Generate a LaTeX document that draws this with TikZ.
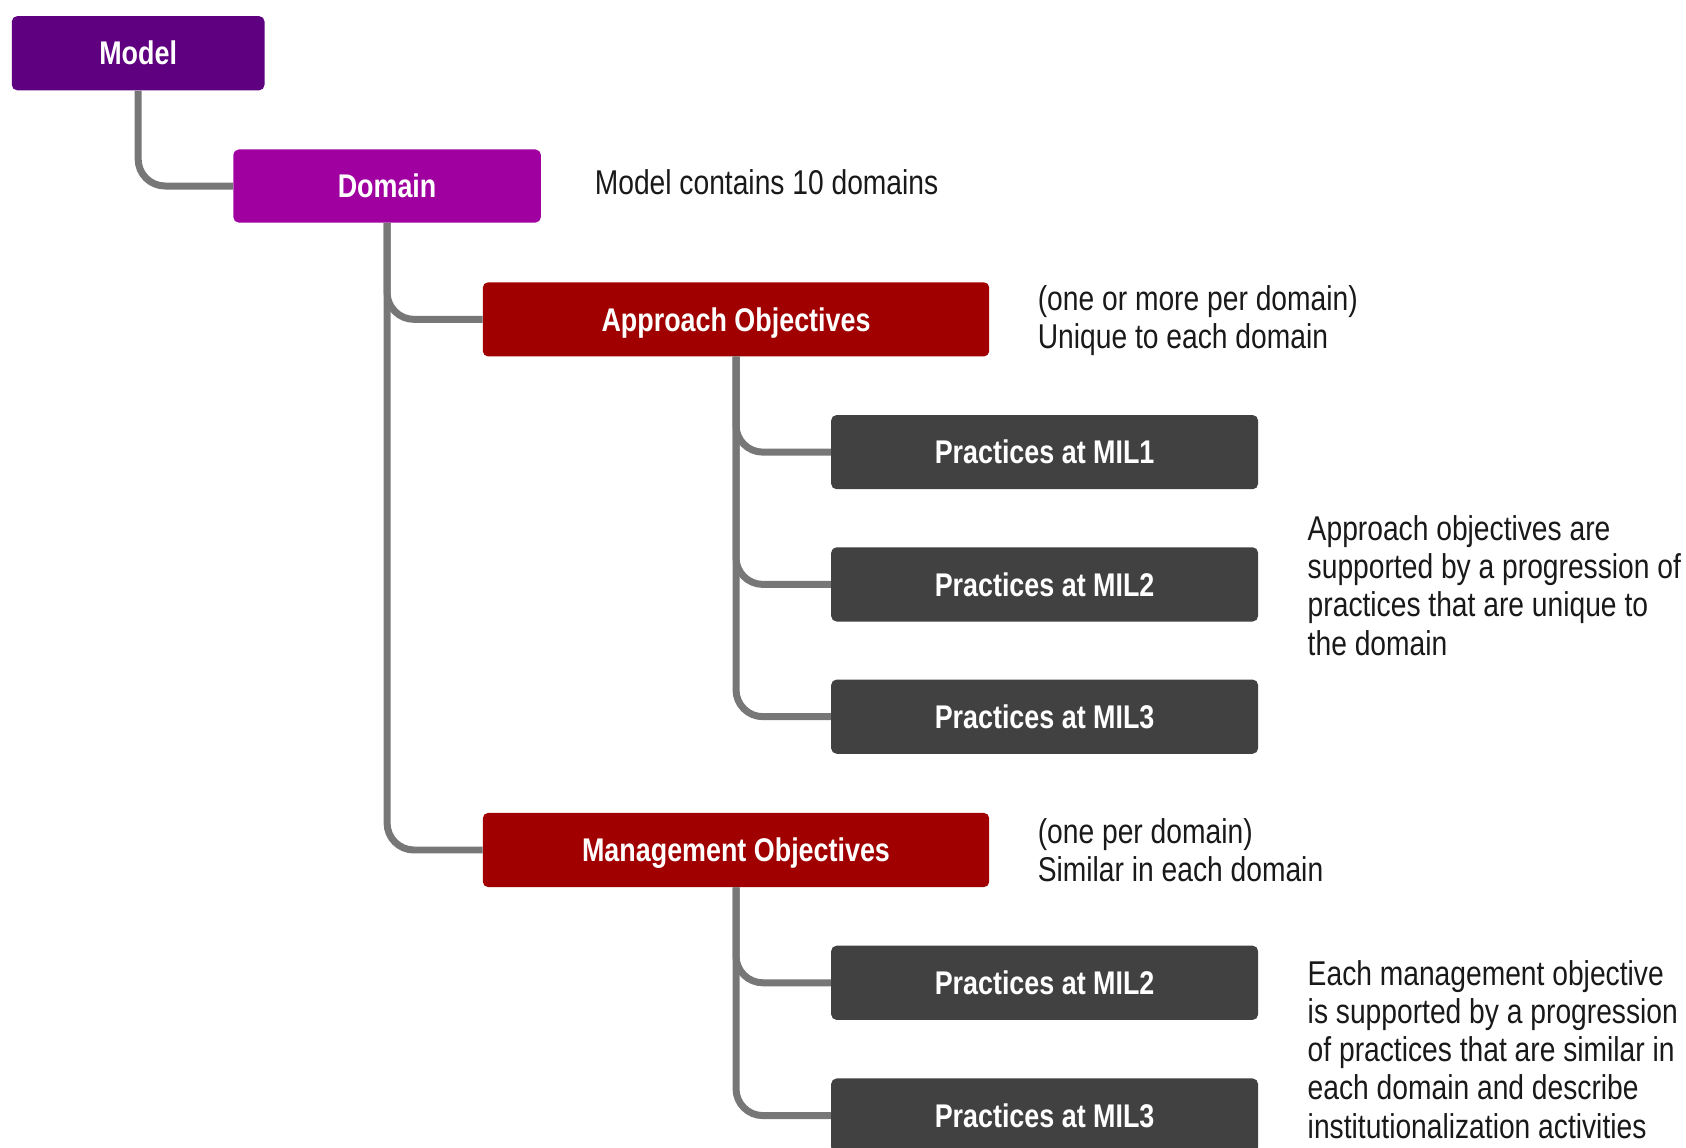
\documentclass[tikz,border=0pt]{standalone}
\usepackage{fontspec}
\setmainfont{Liberation Sans}[FakeStretch=0.82]
\definecolor{cModel}{RGB}{94,0,128}
\definecolor{cDomain}{RGB}{160,0,160}
\definecolor{cObj}{RGB}{160,0,0}
\definecolor{cPrac}{RGB}{65,65,65}
\definecolor{cLink}{RGB}{119,119,119}
\definecolor{cNote}{RGB}{25,25,25}
\begin{document}
\begin{tikzpicture}[x=1pt,y=-1pt,
  box/.style={rounded corners=5pt, text=white, inner sep=0pt,
    text height=21.8pt, text depth=0pt,
    font=\fontsize{30.5}{36}\selectfont\bfseries},
  modelbox/.style={box, fill=cModel, minimum width=235pt, minimum height=69pt},
  domainbox/.style={box, fill=cDomain, minimum width=286pt, minimum height=68pt},
  objbox/.style={box, fill=cObj, minimum width=471pt, minimum height=69pt},
  pracbox/.style={box, fill=cPrac, minimum width=397pt, minimum height=69pt},
  link/.style={draw=cLink, line width=6.5pt, rounded corners=25pt},
  note/.style={anchor=west, inner sep=0pt, align=left, text=cNote,
    font=\fontsize{32}{35.5}\selectfont}]
\useasboundingbox (0,0) rectangle (1568,1067);
\clip (0,0) rectangle (1568,1067);

% hierarchy boxes
\node[modelbox]  (model)  at (128.5,49.5) {Model};
\node[domainbox] (domain) at (360,173)    {Domain};
\node[objbox]    (ao)     at (684.5,297)  {Approach Objectives};
\node[pracbox]   (ap1)    at (971.5,420.5) {Practices at MIL1};
\node[pracbox]   (ap2)    at (971.5,543.5) {Practices at MIL2};
\node[pracbox]   (ap3)    at (971.5,666.5) {Practices at MIL3};
\node[objbox]    (mo)     at (684.5,790.5) {Management Objectives};
\node[pracbox]   (mp2)    at (971.5,914)   {Practices at MIL2};
\node[pracbox]   (mp3)    at (971.5,1037.5) {Practices at MIL3};

% tree connectors
\draw[link] (model.south) |- (domain.west);
\draw[link] (domain.south) |- (mo.west);
\draw[link] (domain.south) |- (ao.west);
\draw[link] (ao.south) |- (ap3.west);
\draw[link] (ao.south) |- (ap2.west);
\draw[link] (ao.south) |- (ap1.west);
\draw[link] (mo.south) |- (mp3.west);
\draw[link] (mo.south) |- (mp2.west);

% explanatory notes
\node[note] (ndomain) at (553,169) {Model contains 10 domains};
\node[note] (nao) at (965,298.5) {(one or more per domain)\\Unique to each domain};
\node[note] (nap) at (1216,544.5) {Approach objectives are\\supported by a progression of\\practices that are unique to\\the domain};
\node[note] (nmo) at (965,791) {(one per domain)\\Similar in each domain};
\node[note] (nmp) at (1216,976) {Each management objective\\is supported by a progression\\of practices that are similar in\\each domain and describe\\institutionalization activities};
\end{tikzpicture}
\end{document}
